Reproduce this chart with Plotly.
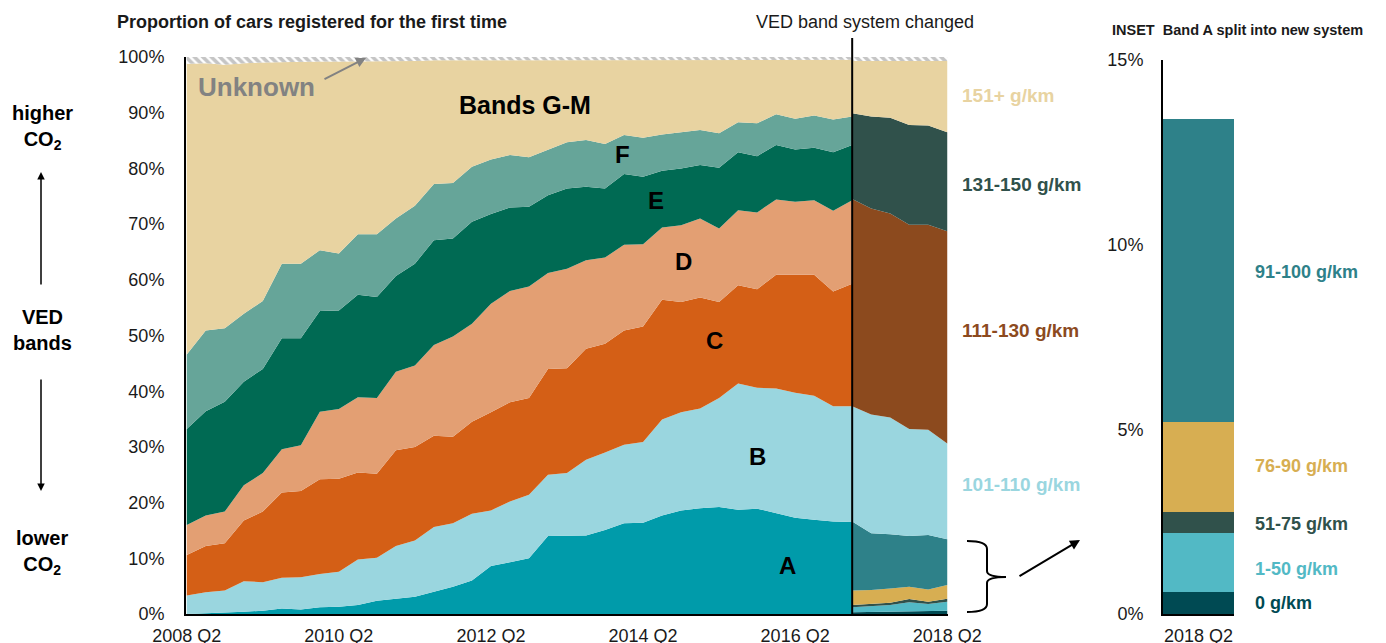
import plotly.graph_objects as go

# ---------------- data ----------------
x_old = list(range(0, 36))   # 2008 Q2 .. 2017 Q1 (old VED bands)
x_new = list(range(35, 41))  # 2017 Q1 .. 2018 Q2 (new system)
tick_idx = [0, 8, 16, 24, 32, 40]
tick_labels = ["2008 Q2", "2010 Q2", "2012 Q2", "2014 Q2", "2016 Q2", "2018 Q2"]
y_ticks = [0, 10, 20, 30, 40, 50, 60, 70, 80, 90, 100]
y_tick_labels = [f"{v}%" for v in y_ticks]
inset_ticks = [0, 5, 10, 15]
inset_tick_labels = [f"{v}%" for v in inset_ticks]

band_A = [0.0, 0.1, 0.2, 0.4, 0.6, 1.0, 0.8, 1.2, 1.3, 1.6, 2.4, 2.7, 3.1, 4.0, 4.9, 6.0, 8.6, 9.3,
          10.0, 14.0, 14.0, 14.1, 15.1, 16.3, 16.4, 17.7, 18.6, 19.0, 19.2, 18.7, 18.9, 18.1, 17.3, 16.9, 16.6, 16.5]
band_B = [3.3, 3.8, 4.0, 5.5, 5.1, 5.5, 5.8, 6.0, 6.3, 8.2, 7.7, 9.5, 10.1, 11.6, 11.4, 12.0, 10.0, 10.9,
          11.4, 11.0, 11.3, 13.6, 13.9, 14.1, 14.5, 17.2, 17.6, 17.9, 19.6, 22.7, 21.7, 22.4, 22.4, 22.3, 20.7, 20.8]
band_C = [7.3, 8.3, 8.5, 10.9, 12.7, 15.3, 15.5, 17.0, 16.7, 15.6, 15.1, 17.2, 16.8, 16.4, 15.5, 16.5, 17.6, 17.8,
          17.4, 19.0, 18.8, 19.9, 19.5, 20.5, 20.7, 21.5, 19.8, 19.9, 17.2, 17.6, 17.7, 20.4, 21.2, 21.7, 20.6, 22.0]
band_D = [5.4, 5.5, 5.7, 6.3, 6.9, 7.8, 8.2, 12.1, 12.5, 13.5, 13.6, 14.1, 14.6, 16.3, 18.0, 17.6, 19.5, 20.0,
          20.0, 17.2, 17.9, 15.9, 15.5, 15.4, 14.8, 13.0, 13.8, 14.2, 13.2, 13.5, 13.8, 13.5, 13.1, 13.4, 14.5, 15.0]
band_E = [17.2, 18.7, 19.7, 18.6, 18.7, 19.9, 19.2, 18.1, 17.7, 18.4, 18.1, 17.2, 18.3, 18.8, 17.6, 18.3, 16.1, 15.0,
          14.3, 14.0, 14.4, 13.2, 12.4, 12.7, 12.1, 10.2, 10.2, 9.6, 10.9, 10.4, 10.1, 9.8, 9.4, 9.4, 10.5, 9.9]
band_F = [13.4, 14.5, 13.2, 12.2, 12.2, 13.4, 13.4, 10.9, 10.2, 10.9, 11.3, 10.3, 10.4, 10.1, 10.0, 9.9, 9.8, 9.4,
          8.9, 8.2, 8.3, 8.4, 8.0, 7.0, 7.0, 6.5, 6.5, 6.3, 6.2, 5.4, 5.9, 5.5, 5.5, 5.8, 5.9, 5.1]
band_GM = [52.2, 48.0, 47.3, 45.0, 42.8, 36.2, 36.2, 33.9, 34.5, 31.0, 31.1, 28.3, 26.0, 22.2, 22.0, 19.1, 17.8, 17.0,
           17.5, 16.1, 14.8, 14.4, 15.1, 13.5, 14.0, 13.4, 13.0, 12.6, 13.2, 11.2, 11.4, 9.8, 10.6, 10.0, 10.7, 10.2]
unknown_old = [1.2, 1.1, 1.4, 1.1, 1.0, 0.9, 0.9, 0.8, 0.8, 0.8, 0.7, 0.7, 0.7, 0.6, 0.6, 0.6, 0.6, 0.6,
               0.5, 0.5, 0.5, 0.5, 0.5, 0.5, 0.5, 0.5, 0.5, 0.5, 0.5, 0.5, 0.5, 0.5, 0.5, 0.5, 0.5, 0.5]

new_0 = [0.3, 0.35, 0.4, 0.45, 0.5, 0.6]
new_1_50 = [0.9, 1.05, 1.2, 1.65, 1.3, 1.6]
new_51_75 = [0.4, 0.4, 0.4, 0.6, 0.4, 0.55]
new_76_90 = [2.6, 2.5, 2.6, 2.2, 2.2, 2.45]
new_91_100 = [12.4, 10.2, 9.7, 9.1, 9.8, 8.2]
new_101_110 = [20.7, 21.3, 21.0, 19.2, 18.9, 17.2]
new_111_130 = [37.2, 37.0, 36.6, 36.7, 36.8, 38.1]
new_131_150 = [15.4, 16.5, 17.2, 17.9, 17.8, 17.8]
new_151_plus = [9.4, 10.0, 10.2, 11.5, 11.6, 12.8]
unknown_new = [0.7, 0.7, 0.7, 0.7, 0.7, 0.7]

inset_category = ["2018 Q2"]
inset_labels = ["0 g/km", "1-50 g/km", "51-75 g/km", "76-90 g/km", "91-100 g/km"]
inset_values = [0.6, 1.6, 0.55, 2.45, 8.2]

# ---------------- styles ----------------
C_A, C_B, C_C, C_D, C_E, C_F, C_GM = "#009BAA", "#9AD6DF", "#D45F16", "#E39F73", "#006A53", "#66A599", "#E8D3A1"
C_0, C_150, C_5175, C_7690, C_91100 = "#004A53", "#52B9C5", "#30514B", "#D7AE52", "#2E8189"
C_111130, C_131150 = "#8C4A1E", "#30514B"
inset_colors = [C_0, C_150, C_5175, C_7690, C_91100]
FONT = "Liberation Sans, Arial, sans-serif"

W, H = 1386, 643
OFF = 8  # page body margin
def px(x):
    return (x - OFF) / W
def py(y):
    return 1 - (y - OFF) / H

fig = go.Figure()

def add_area(x, y, color, group, pattern=None):
    kw = dict(x=x, y=y, mode="lines", line=dict(width=0, color=color), stackgroup=group,
              fillcolor=color, hoverinfo="skip", showlegend=False, xaxis="x", yaxis="y")
    if pattern:
        kw["fillpattern"] = pattern
        kw["fillcolor"] = "white"
    fig.add_trace(go.Scatter(**kw))

hatch = dict(shape="\\", fgcolor="#8C8C8C", bgcolor="white", size=6, solidity=0.6)

for vals, col in [(band_A, C_A), (band_B, C_B), (band_C, C_C), (band_D, C_D),
                  (band_E, C_E), (band_F, C_F), (band_GM, C_GM)]:
    add_area(x_old, vals, col, "old")
add_area(x_old, unknown_old, "#8C8C8C", "old", pattern=hatch)

for vals, col in [(new_0, C_0), (new_1_50, C_150), (new_51_75, C_5175), (new_76_90, C_7690),
                  (new_91_100, C_91100), (new_101_110, C_B), (new_111_130, C_111130),
                  (new_131_150, C_131150), (new_151_plus, C_GM)]:
    add_area(x_new, vals, col, "new")
add_area(x_new, unknown_new, "#8C8C8C", "new", pattern=hatch)

# inset bars
for lab, val, col in zip(inset_labels, inset_values, inset_colors):
    fig.add_trace(go.Bar(x=inset_category, y=[val], marker=dict(color=col, line=dict(width=0)),
                         name=lab, showlegend=False, hoverinfo="skip", xaxis="x2", yaxis="y2"))

axis_common = dict(showgrid=False, zeroline=False, showline=True, linecolor="black", linewidth=2,
                   ticks="", tickfont=dict(size=18, color="#1a1a1a"), automargin=False)
fig.update_layout(
    width=W, height=H, margin=dict(l=0, r=0, t=0, b=0, autoexpand=False),
    paper_bgcolor="white", plot_bgcolor="white",
    barmode="stack", bargap=0,
    font=dict(family=FONT, size=18, color="#1a1a1a"),
    xaxis=dict(domain=[px(186), px(948)], range=[-0.04, 40.04], tickvals=tick_idx, ticktext=tick_labels,
               ticklabelstandoff=4, **axis_common),
    yaxis=dict(domain=[py(614), py(57)], range=[0, 100], tickvals=y_ticks, ticktext=y_tick_labels,
               ticklabelstandoff=16, **axis_common),
    xaxis2=dict(domain=[px(1163), px(1234)], anchor="y2", ticklabelstandoff=4, **axis_common),
    yaxis2=dict(domain=[py(614), py(60)], anchor="x2", range=[0, 15], tickvals=inset_ticks,
                ticktext=inset_tick_labels, ticklabelstandoff=14, **axis_common),
)

# vertical line: VED band system changed
fig.add_shape(type="line", xref="x", yref="paper", x0=35, x1=35, y0=py(614), y1=py(38),
              line=dict(color="black", width=2))

# curly brace
bx0, bx1, bxp = 967, 987, 1006
by0, bym, by1 = 541, 577, 612
brace = (f"M {px(bx0)},{py(by0)} Q {px(bx1)},{py(by0)} {px(bx1)},{py(by0 + 8)} "
         f"L {px(bx1)},{py(bym - 6)} Q {px(bx1)},{py(bym)} {px(bxp)},{py(bym)} "
         f"Q {px(bx1)},{py(bym)} {px(bx1)},{py(bym + 6)} "
         f"L {px(bx1)},{py(by1 - 8)} Q {px(bx1)},{py(by1)} {px(bx0)},{py(by1)}")
fig.add_shape(type="path", xref="paper", yref="paper", path=brace, line=dict(color="black", width=2))

ann = []
def text(x, y, s, size=18, color="#1a1a1a", bold=False, xanchor="center"):
    t = f"<b>{s}</b>" if bold else s
    ann.append(dict(x=px(x), y=py(y), xref="paper", yref="paper", text=t, showarrow=False,
                    xanchor=xanchor, yanchor="middle", font=dict(family=FONT, size=size, color=color)))

def arrow(hx, hy, tx, ty, color="black", width=2):
    ann.append(dict(x=px(hx), y=py(hy), xref="paper", yref="paper", text="", showarrow=True,
                    ax=tx - hx, ay=ty - hy, axref="pixel", ayref="pixel",
                    arrowhead=2, arrowsize=1, arrowwidth=width, arrowcolor=color))

text(115, 22, "Proportion of cars registered for the first time", size=18, bold=True, xanchor="left")
text(865, 22, "VED band system changed", size=18)
text(1110, 30, "INSET&nbsp;&nbsp;Band A split into new system", size=14.5, bold=True, xanchor="left")

text(256, 87, "Unknown", size=26, color="#828282", bold=True)
arrow(366, 58, 323, 80, color="#828282")
text(525, 105, "Bands G-M", size=25, color="black", bold=True)
for lab, (lx, ly) in zip(["F", "E", "D", "C", "B", "A"],
                         [(622, 155), (656, 200), (683, 262), (714, 340), (757, 456), (787, 565)]):
    text(lx, ly, lab, size=24, color="black", bold=True)

text(960, 95, "151+ g/km", size=19, color=C_GM, bold=True, xanchor="left")
text(960, 184, "131-150 g/km", size=19, color=C_131150, bold=True, xanchor="left")
text(960, 330, "111-130 g/km", size=19, color=C_111130, bold=True, xanchor="left")
text(960, 485, "101-110 g/km", size=19, color=C_B, bold=True, xanchor="left")

for lab, ly, col in zip(["91-100 g/km", "76-90 g/km", "51-75 g/km", "1-50 g/km", "0 g/km"],
                        [272, 466, 524, 569, 603], [C_91100, C_7690, C_5175, C_150, C_0]):
    text(1253, ly, lab, size=18, color=col, bold=True, xanchor="left")

arrow(1080, 540, 1018, 577)

text(42, 128, "higher<br>CO<sub>2</sub>", size=20, color="black", bold=True)
text(42, 330, "VED<br>bands", size=20, color="black", bold=True)
text(42, 552, "lower<br>CO<sub>2</sub>", size=20, color="black", bold=True)
arrow(41, 172, 41, 286, width=1.5)
arrow(41, 491, 41, 378, width=1.5)

fig.update_layout(annotations=ann)
fig.write_html("out.html")
